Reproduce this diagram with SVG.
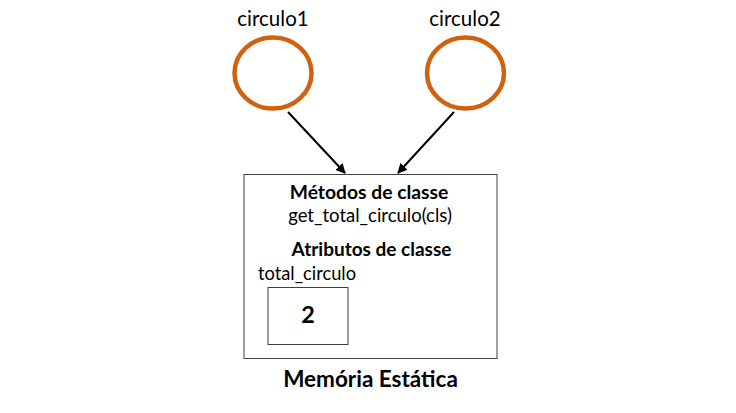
<svg xmlns="http://www.w3.org/2000/svg" width="736" height="413" viewBox="0 0 736 413">
<style>
text{font-family:Lato,"Open Sans",sans-serif;fill:#000}
.b{font-weight:bold}
.obj{fill:none;stroke:#D0620F;stroke-width:4.5}
.box{fill:#fff;stroke:#404040;stroke-width:1}
.con{stroke:#000;stroke-width:2;fill:none;marker-end:url(#ah)}
</style>
<defs>
<marker id="ah" viewBox="0 0 10 10" refX="9" refY="5" markerWidth="5" markerHeight="5" orient="auto"><path d="M0,0L10,5L0,10z" fill="#000"/></marker>
</defs>
<rect width="736" height="413" fill="#fff"/>
<g id="circulo1">
<ellipse class="obj" cx="273" cy="73" rx="38.5" ry="35.5"/>
<text x="273" y="26" font-size="20.5" text-anchor="middle">circulo1</text>
</g>
<g id="circulo2">
<ellipse class="obj" cx="465.5" cy="73" rx="38.5" ry="35.5"/>
<text x="465" y="26" font-size="20.5" text-anchor="middle">circulo2</text>
</g>
<g id="connectors">
<line class="con" x1="288" y1="112" x2="345" y2="173"/>
<line class="con" x1="454" y1="112" x2="398" y2="173"/>
</g>
<g id="memoria">
<rect class="box" x="244" y="174.5" width="253" height="184"/>
<text class="b" x="369" y="199" font-size="19.3" text-anchor="middle">Métodos de classe</text>
<text x="370" y="222" font-size="18.5" text-anchor="middle">get_total_circulo(cls)</text>
<text class="b" x="371.5" y="256" font-size="19" text-anchor="middle">Atributos de classe</text>
<text x="258" y="280" font-size="18.3">total_circulo</text>
<rect class="box" x="268" y="287.5" width="80" height="57"/>
<text class="b" x="308" y="323" font-size="23.5" text-anchor="middle">2</text>
<text class="b" x="370.5" y="387" font-size="22.5" text-anchor="middle">Memória Estática</text>
</g>
</svg>
